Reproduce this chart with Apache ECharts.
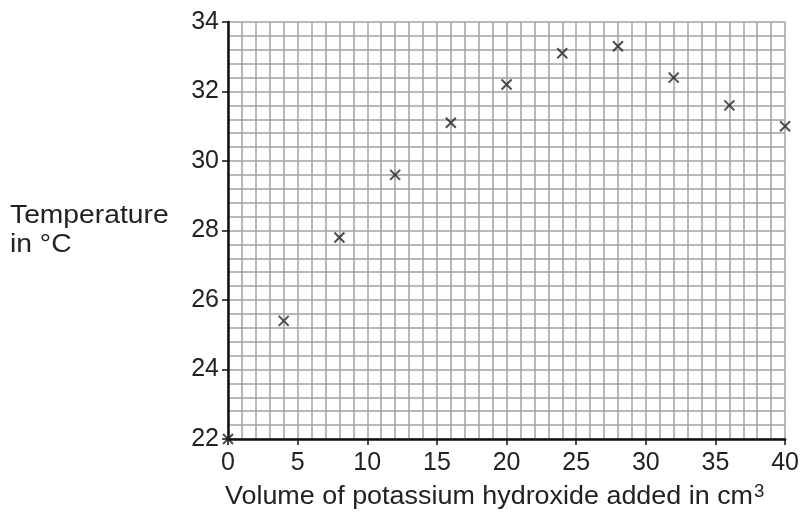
<!DOCTYPE html>
<html>
<head>
<meta charset="utf-8">
<script src="https://cdn.jsdelivr.net/npm/echarts@6/dist/echarts.min.js"></script>
<style>
  html, body { margin: 0; padding: 0; background: #fff; }
  #chart { width: 802px; height: 518px; }
</style>
</head>
<body>
<div id="chart"></div>
<script>
// volume of KOH added (cm3) and temperature
var volumes = [0, 4, 8, 12, 16, 20, 24, 28, 32, 36, 40]
var temperatures = [22, 25.4, 27.8, 29.6, 31.1, 32.2, 33.1, 33.3, 32.4, 31.6, 31.0]

var xName = 'Volume of potassium hydroxide added in cm'
var yName = ['Temperature', 'in °C']

var font = 'Arial, "Liberation Sans", sans-serif'
var gridColor = '#a3a3a3'

var points = volumes.map(function (v, i) { return [v, temperatures[i]] })

var myChart = echarts.init(document.getElementById('chart'))
myChart.setOption({
  animation: false,
  grid: { left: 228, right: 16, top: 22, bottom: 79 },
  xAxis: {
    type: 'value',
    min: 0,
    max: 40,
    interval: 5,
    axisLine: { show: true, onZero: false, lineStyle: { color: '#111', width: 2.5 } },
    axisTick: { show: true, length: 6, lineStyle: { color: '#111', width: 1.5 } },
    axisLabel: { color: '#222', fontSize: 25, fontFamily: font, margin: 12 },
    splitLine: { show: true, lineStyle: { color: gridColor, width: 1.5 } },
    minorTick: { show: false, splitNumber: 5 },
    minorSplitLine: { show: true, lineStyle: { color: gridColor, width: 1.5 } }
  },
  yAxis: {
    type: 'value',
    min: 22,
    max: 34,
    interval: 2,
    axisLine: { show: true, onZero: false, lineStyle: { color: '#111', width: 2.5 } },
    axisTick: { show: true, length: 6, lineStyle: { color: '#111', width: 1.5 } },
    axisLabel: { color: '#222', fontSize: 25, fontFamily: font, margin: 9 },
    splitLine: { show: true, lineStyle: { color: gridColor, width: 1.5 } },
    minorTick: { show: false, splitNumber: 5 },
    minorSplitLine: { show: true, lineStyle: { color: gridColor, width: 1.5 } }
  },
  graphic: [
    {
      type: 'text',
      left: 10,
      top: 202,
      scaleX: 1.13,
      style: {
        text: yName.join('\n'),
        font: '25px ' + font,
        fill: '#222',
        lineHeight: 29
      }
    },
    {
      type: 'text',
      left: 225,
      top: 483,
      scaleX: 1.035,
      style: {
        text: '{a|' + xName + '}{b|3}',
        fill: '#222',
        rich: {
          a: { fontSize: 26, fontFamily: font, color: '#222', lineHeight: 28 },
          b: { fontSize: 18, fontFamily: font, color: '#222', verticalAlign: 'top', lineHeight: 28, padding: [0, 0, 8, 1] }
        }
      }
    }
  ],
  series: [
    {
      type: 'scatter',
      data: points,
      symbol: 'path://M0,0L10,10M10,0L0,10',
      symbolSize: 10,
      itemStyle: { color: 'rgba(0,0,0,0)', borderColor: '#222', borderWidth: 2 },
      z: 5
    }
  ]
})
</script>
</body>
</html>
